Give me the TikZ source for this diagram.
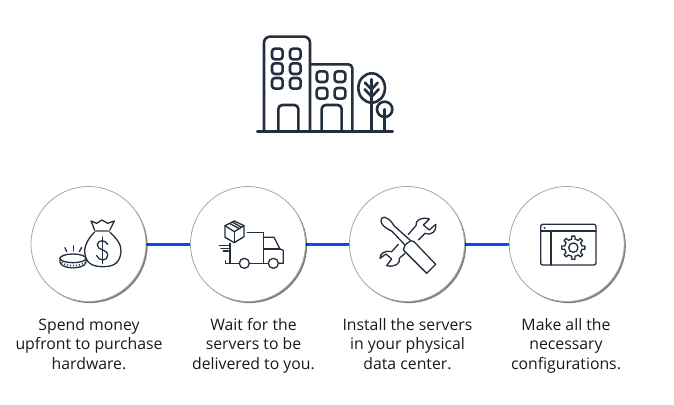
\documentclass[tikz,border=0pt]{standalone}
\usepackage{fontspec}
\setmainfont{Open Sans}
\usetikzlibrary{shadows}
\definecolor{inkdark}{HTML}{232F3E}
\definecolor{linkblue}{HTML}{0F48E8}
\tikzset{
    stepcircle/.style={circle,draw=gray!70,line width=0.8pt,fill=white,minimum size=115pt,inner sep=0pt,
        drop shadow={shadow xshift=1.6pt,shadow yshift=-1.6pt,fill=black,opacity=0.5}},
    steptext/.style={anchor=north,align=center,font=\fontsize{15.8}{19.6}\selectfont,text=black!90,inner sep=0pt},
    link/.style={draw=linkblue,line width=3pt},
    bigicon/.style={draw=inkdark,line width=2.6pt,line join=round,line cap=round},
    smallicon/.style={draw=inkdark,line width=1.3pt,line join=round,line cap=round}
}
\begin{document}
\begin{tikzpicture}[x=1pt,y=-1pt]
    \useasboundingbox (0,0) rectangle (674,404);

    % connectors first, the circles sit on them
    \coordinate (spendc) at (88.5,244);
    \coordinate (waitc) at (248,244);
    \coordinate (installc) at (407,244);
    \coordinate (configc) at (566.7,244);
    \draw[link] (spendc) -- (waitc);
    \draw[link] (waitc) -- (installc);
    \draw[link] (installc) -- (configc);

    \node[stepcircle] (spend) at (spendc) {};
    \node[stepcircle] (wait) at (waitc) {};
    \node[stepcircle] (install) at (installc) {};
    \node[stepcircle] (config) at (configc) {};

    \node[steptext] (spendtext) at (89,318) {Spend money\\upfront to purchase\\hardware.};
    \node[steptext] (waittext) at (253.5,318) {Wait for the\\servers to be\\delivered to you.};
    \node[steptext] (installtext) at (407.5,318) {Install the servers\\in your physical\\data center.};
    \node[steptext] (configtext) at (566,318) {Make all the\\necessary\\configurations.};

    % buildings
    \begin{scope}[shift={(240,20)},scale=1/3,bigicon]
        \draw (52,335) -- (458,335);
        \draw[rounded corners=6pt] (72,335) -- (72,50) -- (210,50) -- (210,335);
        \draw[rounded corners=4pt] (210,133) -- (337,133) -- (337,335);
        \draw[rounded corners=4pt] (115,335) -- (115,255) -- (175,255) -- (175,335);
        \draw[rounded corners=4pt] (245,335) -- (245,255) -- (305,255) -- (305,335);
        \foreach \x in {112,166}
            \foreach \y in {102,146,190}
                \draw[rounded corners=3pt] (\x-16,\y-16) rectangle (\x+16,\y+16);
        \foreach \x in {246,300}
            \foreach \y in {170,220}
                \draw[rounded corners=3pt] (\x-16,\y-16) rectangle (\x+16,\y+16);
        \draw (395,204) ellipse (40 and 44);
        \draw (395,335) -- (395,178);
        \draw (375,188) -- (395,208) -- (413,188);
        \draw (374,208) -- (395,230) -- (416,208);
        \draw (434,268) circle (23);
        \draw (434,335) -- (434,268);
    \end{scope}

    % money bag and coin
    \begin{scope}[shift={(55,215)},scale=1/3,smallicon]
        \draw (118,52) .. controls (100,70) and (85,95) .. (90,118) .. controls (95,150) and (120,155) .. (145,155)
            .. controls (175,155) and (195,145) .. (198,110) .. controls (200,90) and (185,70) .. (165,52);
        \draw[gray,line width=2pt,line cap=butt] (118,48) -- (165,48);
        \draw (118,44) .. controls (115,35) and (112,26) .. (108,18) -- (125,25) -- (141,15) -- (158,25) -- (178,18)
            .. controls (174,26) and (170,35) .. (165,44);
        \draw (158,88) .. controls (150,72) and (127,75) .. (127,90) .. controls (127,108) and (158,100) .. (158,122)
            .. controls (158,138) and (132,140) .. (125,122);
        \draw (142,66) -- (142,146);
        \draw (54,130) ellipse (39 and 13);
        \draw (15,130) -- (15,142) .. controls (20,164) and (88,164) .. (93,142) -- (93,130);
        \draw[dash pattern=on 1.2pt off 1.8pt,line cap=butt] (20,142) .. controls (30,155) and (78,155) .. (88,142);
        \draw (30,98) -- (35,110);
        \draw (55,92) -- (55,108);
        \draw (80,97) -- (73,110);
    \end{scope}

    % truck with parcel
    \begin{scope}[shift={(20,175)},scale=1/3,smallicon]
        \draw (643,138) -- (672,152) -- (672,185) -- (643,203) -- (615,187) -- (615,152) -- cycle;
        \draw (615,152) -- (643,170) -- (672,152);
        \draw (643,170) -- (643,203);
        \draw (630,146) -- (658,161);
        \draw (638,142) -- (665,157);
        \draw (682,172) -- (730,172) -- (730,265);
        \draw (730,187) -- (762,187) -- (780,222) -- (790,226) -- (790,265) -- (776,265);
        \draw (730,222) -- (780,222);
        \draw (688,265) -- (745,265);
        \draw (673,265) circle (15);
        \draw (760,265) circle (15);
        \draw (630,205) -- (630,265) -- (658,265);
        \draw (617,257) -- (617,265) -- (630,265);
        \draw (598,212) -- (625,212);
        \draw (603,220) -- (625,220);
        \draw (610,228) -- (625,228);
    \end{scope}

    % crossed tools
    \begin{scope}[shift={(370,205)},scale=1/3,smallicon]
        % screwdriver
        \draw (122,107) -- (72,62) .. controls (66,52) and (58,42) .. (45,37) .. controls (35,35) and (30,45) .. (35,55)
            .. controls (40,65) and (52,72) .. (65,78) -- (105,120);
        \draw (105,120) -- (122,107) -- (132,110) -- (197,178) -- (170,205) -- (100,135) -- cycle;
        % wrench
        \draw (115,88) -- (138,62) .. controls (135,45) and (155,35) .. (178,42) -- (160,60) -- (178,75) -- (197,58)
            .. controls (200,80) and (185,92) .. (165,85) -- (145,105);
        \draw (85,118) -- (65,140) .. controls (45,135) and (30,145) .. (30,160) -- (48,147) -- (65,162) -- (50,182)
            .. controls (75,188) and (92,175) .. (88,160) -- (105,145);
    \end{scope}

    % window with gear
    \begin{scope}[shift={(330,175)},scale=1/3,smallicon]
        \draw[rounded corners=2pt] (632,148) rectangle (798,270);
        \draw (632,168) -- (798,168);
        \draw (663,168) -- (663,270);
        \fill[inkdark] (644,159) circle (3);
        \draw (730,218) circle (14);
        \foreach \a in {0,45,...,315}
            \draw ([shift={(730,218)}]\a-22.5:26) -- ([shift={(730,218)}]\a-11:26) -- ([shift={(730,218)}]\a-8:35)
                -- ([shift={(730,218)}]\a+8:35) -- ([shift={(730,218)}]\a+11:26) -- ([shift={(730,218)}]\a+22.5:26);
    \end{scope}
\end{tikzpicture}
\end{document}
